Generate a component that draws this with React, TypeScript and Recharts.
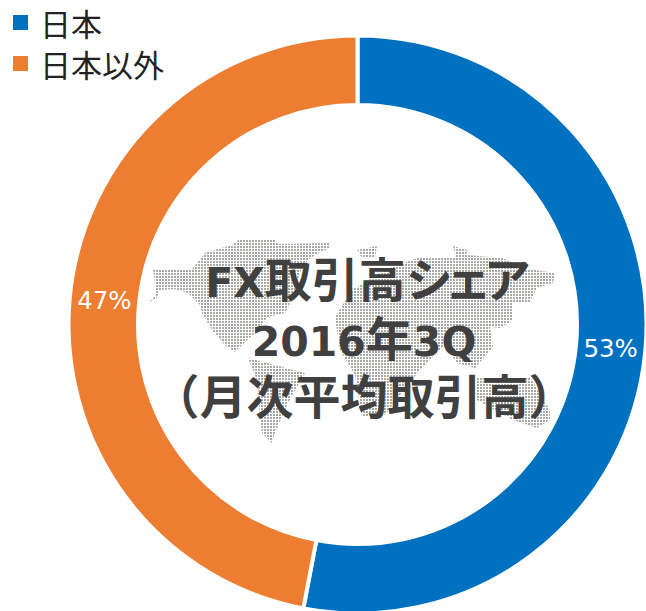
import React from "react";
import { PieChart, Pie, Cell } from "recharts";

const categories = ["日本", "日本以外"];
const shares = [53, 47];
const colors = ["#0070C0", "#ED7D31"];

const LATIN = 41;
const KANJI = 47;
const titleLines = [
  { y: 297, parts: [["FX", LATIN, 0], ["取引高", KANJI, 0], ["シェア", KANJI, -8]] },
  { y: 356, parts: [["2016", LATIN, 0], ["年", KANJI, 0], ["3Q", LATIN, 0]] },
  { y: 414, parts: [["（月次平均取引高）", KANJI, 0]] },
];

// backdrop world map outlines, filled with the dot pattern
const mapShapes = [
  "153,269 192,269 205,253 218,249 232,245 240,239 275,239 278,244 330,243 330,248 318,253 308,260 300,272 295,290 288,308 285,313 268,317 258,330 242,345 235,352 217,340 225,345 212,330 202,313 200,305 188,293 175,289 159,290 157,298 149,302 155,296 155,285",
  "248,358 305,373 288,403 275,433 272,443 262,433 260,420 258,383",
  "357,250 377,246 375,258 362,258",
  "453,246 467,250 465,262 456,258",
  "352,290 385,270 420,257 447,258 467,255 503,258 523,268 555,273 553,283 537,288 530,302 513,302 513,320 500,328 490,327 493,347 475,368 457,363 445,345 420,370 400,395 385,415 362,417 355,375 340,350 335,317",
  "477,377 530,377 550,410 550,420 537,428 513,420 477,400",
];

const data = categories.map((name, i) => ({ name, value: shares[i] }));

const CJK = '"Noto Sans CJK JP", sans-serif';
const WIDE = '"DejaVu Sans", "Noto Sans CJK JP", sans-serif';
const RADIAN = Math.PI / 180;

const renderPct = ({ cx, cy, midAngle, innerRadius, outerRadius, value }: any) => {
  const r = (innerRadius + outerRadius) / 2;
  const x = cx + r * Math.cos(-midAngle * RADIAN);
  const y = cy + r * Math.sin(-midAngle * RADIAN);
  return (
    <text x={x} y={y} fill="#fff" fontSize={24.5} textAnchor="middle" dominantBaseline="central" fontFamily={WIDE}>
      {`${value}%`}
    </text>
  );
};

export default function App() {
  return (
    <div style={{ position: "absolute", left: 0, top: 0, width: 646, height: 611, background: "#fff", overflow: "hidden" }}>
      <PieChart width={646} height={611} margin={{ top: 0, right: 0, bottom: 0, left: 0 }}>
        <defs>
          <pattern id="mapDots" width={3} height={3} patternUnits="userSpaceOnUse">
            <rect width={2} height={2} fill="#a8a8a4" />
          </pattern>
        </defs>
        <Pie
          data={data}
          dataKey="value"
          cx={357.5}
          cy={324.5}
          innerRadius={219.5}
          outerRadius={289}
          startAngle={90}
          endAngle={-270}
          stroke="#fff"
          strokeWidth={4}
          labelLine={false}
          label={renderPct}
          isAnimationActive={false}
        >
          {data.map((d, i) => (
            <Cell key={d.name} fill={colors[i]} />
          ))}
        </Pie>
        {mapShapes.map((points) => (
          <polygon key={points} points={points} fill="url(#mapDots)" />
        ))}
        {titleLines.map((line) => (
          <text key={line.y} x={364} y={line.y} textAnchor="middle" fontWeight={700} fill="#404040" fontFamily={WIDE}>
            {line.parts.map(([str, size, spacing]) => (
              <tspan key={str as string} fontSize={size as number} letterSpacing={spacing as number}>
                {str}
              </tspan>
            ))}
          </text>
        ))}
      </PieChart>
      <div style={{ position: "absolute", left: 13, top: 2, fontFamily: CJK, fontSize: 31, color: "#222", lineHeight: "41px" }}>
        {categories.map((name, i) => (
          <div key={name} style={{ display: "flex", alignItems: "center" }}>
            <span style={{ width: 15, height: 15, background: colors[i], marginRight: 12 }} />
            {name}
          </div>
        ))}
      </div>
    </div>
  );
}
